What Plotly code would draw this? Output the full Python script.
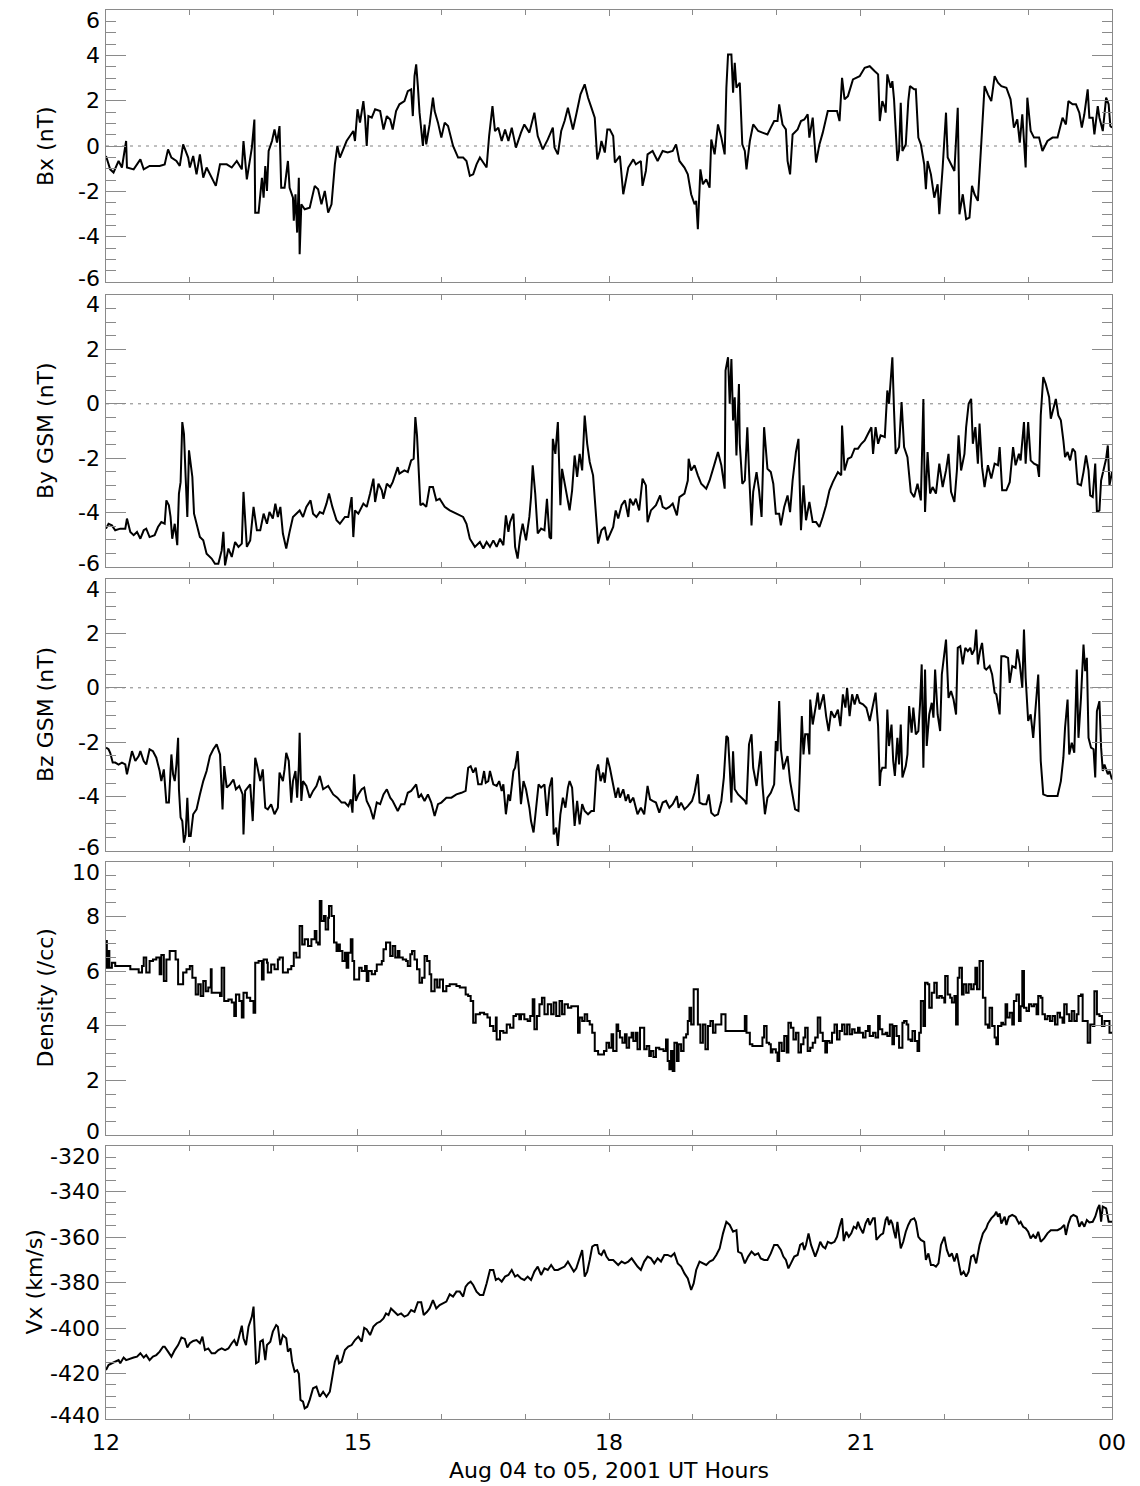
import plotly.graph_objects as go

# ---------------- data ----------------
BX_T = [12.00,12.05,12.09,12.15,12.19,12.24,12.25,12.33,12.41,12.45,12.52,12.64,12.70,12.74,12.78,12.84,12.88,12.92,12.98,13.00,
13.04,13.08,13.12,13.16,13.20,13.26,13.31,13.36,13.44,13.50,13.56,13.62,13.64,13.68,13.74,13.77,13.78,13.82,13.84,13.86,
13.88,13.90,13.92,13.94,13.98,14.01,14.04,14.07,14.09,14.13,14.17,14.19,14.23,14.24,14.26,14.28,14.30,14.31,14.33,14.37,
14.43,14.49,14.53,14.57,14.61,14.65,14.69,14.73,14.76,14.79,14.83,14.87,14.91,14.95,14.97,15.00,15.03,15.07,15.09,15.11,
15.13,15.17,15.21,15.27,15.31,15.35,15.39,15.42,15.46,15.50,15.56,15.60,15.64,15.66,15.68,15.70,15.72,15.74,15.78,15.80,
15.82,15.86,15.90,15.92,15.96,16.00,16.04,16.08,16.14,16.20,16.26,16.30,16.34,16.38,16.42,16.46,16.54,16.57,16.61,16.64,
16.68,16.72,16.76,16.80,16.84,16.89,16.95,16.99,17.05,17.11,17.15,17.21,17.27,17.33,17.35,17.39,17.43,17.47,17.51,17.57,
17.61,17.66,17.71,17.75,17.79,17.83,17.86,17.89,17.91,17.95,17.98,
18.01,18.05,18.07,18.13,18.17,18.23,18.29,18.32,18.38,18.40,18.44,18.46,18.52,18.58,18.64,18.70,18.76,18.80,18.84,18.90,
18.94,18.98,19.02,19.04,19.06,19.09,19.12,19.16,19.20,19.22,19.26,19.30,19.34,19.38,19.40,19.42,19.46,19.48,19.50,19.52,
19.56,19.59,19.62,19.64,19.68,19.72,19.78,19.83,19.89,19.93,19.97,20.01,20.03,20.07,20.11,20.13,20.16,20.19,20.25,20.29,
20.33,20.37,20.39,20.43,20.47,20.51,20.55,20.61,20.67,20.72,20.75,20.78,20.81,20.85,20.91,20.99,21.05,21.11,21.17,21.21,
21.23,21.26,21.29,21.30,21.32,21.36,21.38,21.40,21.44,21.46,21.48,21.50,21.54,21.57,21.59,21.64,21.66,21.69,21.72,21.76,
21.78,21.80,21.84,21.88,21.92,21.94,21.98,22.02,22.04,22.08,22.12,22.16,22.18,22.22,22.26,22.30,22.33,22.36,22.40,22.44,
22.48,22.52,22.56,22.60,22.64,22.68,22.74,22.79,22.83,22.87,22.90,22.93,22.97,22.99,23.03,23.07,23.13,23.17,23.23,23.29,
23.35,23.41,23.45,23.48,23.53,23.57,23.61,23.64,23.67,23.71,23.73,23.77,23.79,23.83,23.85,23.89,23.93,23.96,23.98,24.00]
BX = [-0.44,-1.03,-1.17,-0.66,-0.95,0.22,-0.95,-1.03,-0.59,-1.03,-0.88,-0.88,-0.81,-0.15,-0.51,-0.66,-0.88,0.07,-0.51,-0.95,
-0.44,-1.25,-0.37,-1.40,-0.95,-1.40,-1.76,-0.81,-0.81,-0.95,-0.66,-1.03,0.22,-1.47,-0.07,1.17,-2.94,-2.94,-2.28,-1.40,
-2.28,-0.88,-1.98,-0.22,0.22,0.73,0.15,0.88,-1.84,-1.84,-0.66,-1.84,-2.28,-3.30,-2.13,-3.82,-1.40,-4.77,-2.57,-2.79,
-2.72,-1.76,-1.91,-2.57,-1.98,-2.94,-2.57,-0.81,0.0,-0.51,-0.15,0.22,0.44,0.66,0.22,1.62,1.03,1.98,1.25,0.0,
1.32,1.25,1.62,1.54,0.73,1.32,1.17,0.73,1.54,1.84,1.98,2.42,2.50,1.32,3.08,3.60,2.64,1.47,0.0,0.95,
0.07,0.95,2.13,1.54,1.03,0.37,1.03,0.88,0.0,-0.51,-0.51,-0.66,-1.32,-1.25,-0.81,-0.51,-0.95,0.44,1.76,0.66,
0.81,0.22,0.73,0.22,0.81,-0.07,0.59,0.95,0.59,1.47,0.44,-0.15,0.29,0.81,-0.07,-0.37,0.66,1.10,1.69,0.73,
1.40,2.28,2.72,2.13,1.69,1.25,-0.59,-0.22,0.22,-0.29,0.73,
0.73,0.44,-0.73,-0.44,-2.13,-0.95,-0.59,-0.81,-0.66,-1.76,-1.10,-0.37,-0.22,-0.66,-0.22,-0.29,-0.22,0.07,-0.66,-0.95,
-1.25,-2.13,-2.57,-2.42,-3.67,-1.03,-1.69,-1.47,-1.84,0.29,-0.37,0.95,0.37,-0.37,2.57,4.04,4.04,2.35,3.67,2.57,
2.79,0.07,-0.22,-1.03,0.22,0.95,0.66,0.59,0.51,0.81,1.10,1.10,1.84,0.95,0.73,-0.66,-1.25,0.51,0.73,1.10,
1.17,1.40,0.37,1.25,-0.73,0.07,0.59,1.54,1.54,1.54,1.10,3.01,2.06,2.20,2.94,3.08,3.45,3.52,3.30,3.16,
1.10,1.98,1.69,1.47,3.16,2.57,2.86,2.06,-0.66,-0.22,1.91,-0.22,0.07,1.98,2.64,2.50,2.50,0.37,0.07,-0.81,
-1.91,-0.66,-1.25,-2.28,-1.69,-3.01,-0.95,1.47,-0.51,-0.81,-1.10,1.69,-3.01,-2.13,-3.23,-3.16,-1.76,-2.13,-2.42,0.07,
2.64,2.28,1.98,3.08,2.79,2.64,2.57,2.06,0.81,1.17,0.15,1.40,-0.95,2.13,0.66,0.37,0.37,-0.22,0.22,0.37,
0.37,1.25,0.95,1.98,1.84,1.84,1.47,0.81,1.40,2.50,1.25,1.25,0.51,1.76,1.25,0.66,2.13,1.84,0.88,0.81]

BY_T = [12.00,12.03,12.07,12.11,12.17,12.23,12.25,12.29,12.33,12.37,12.41,12.45,12.48,12.52,12.58,12.62,12.66,12.70,12.72,12.75,
12.77,12.79,12.82,12.85,12.87,12.89,12.91,12.93,12.95,12.97,12.99,13.01,13.03,13.05,13.08,13.12,13.16,13.20,13.26,13.30,
13.34,13.38,13.40,13.42,13.46,13.50,13.54,13.58,13.62,13.64,13.68,13.72,13.76,13.80,13.84,13.88,13.92,13.95,13.99,14.02,
14.05,14.08,14.11,14.15,14.19,14.23,14.27,14.31,14.35,14.39,14.44,14.47,14.51,14.55,14.59,14.63,14.66,14.70,14.75,14.79,
14.85,14.89,14.93,14.95,14.97,15.01,15.07,15.11,15.15,15.19,15.21,15.25,15.29,15.31,15.35,15.39,15.42,15.48,15.50,15.56,
15.60,15.64,15.67,15.69,15.71,15.73,15.75,15.78,15.82,15.86,15.90,15.94,15.98,16.04,16.10,16.18,16.26,16.30,16.34,16.40,
16.46,16.50,16.54,16.58,16.62,16.66,16.70,16.74,16.77,16.80,16.82,16.86,16.88,16.91,16.94,16.97,17.01,17.05,17.07,17.09,
17.12,17.15,17.19,17.23,17.26,17.29,17.31,17.33,17.36,17.39,17.42,17.44,17.47,17.50,17.53,17.56,17.59,17.62,17.65,17.68,
17.71,17.74,17.77,17.81,17.84,17.87,17.91,17.95,17.98,
18.01,18.05,18.08,18.11,18.15,18.19,18.23,18.25,18.29,18.32,18.36,18.38,18.40,18.44,18.46,18.50,18.56,18.61,18.64,18.68,
18.72,18.76,18.81,18.84,18.90,18.94,18.95,18.98,19.02,19.06,19.10,19.16,19.20,19.26,19.30,19.34,19.38,19.39,19.42,19.44,
19.46,19.48,19.50,19.52,19.55,19.56,19.59,19.62,19.65,19.67,19.70,19.72,19.76,19.79,19.82,19.85,19.89,19.93,19.96,19.99,
20.03,20.05,20.09,20.13,20.16,20.19,20.23,20.26,20.29,20.32,20.35,20.39,20.43,20.47,20.51,20.55,20.59,20.63,20.67,20.73,
20.77,20.78,20.81,20.85,20.89,20.93,20.97,21.01,21.05,21.09,21.13,21.15,21.18,21.21,21.24,21.29,21.32,21.34,21.36,21.38,
21.40,21.42,21.46,21.49,21.52,21.56,21.60,21.64,21.68,21.72,21.75,21.77,21.80,21.83,21.86,21.90,21.94,21.98,22.02,22.05,
22.08,22.12,22.15,22.17,22.20,22.24,22.26,22.29,22.32,22.34,22.37,22.40,22.42,22.45,22.48,22.52,22.56,22.60,22.64,22.66,
22.69,22.74,22.78,22.82,22.85,22.89,22.91,22.95,22.97,23.00,23.03,23.07,23.11,23.13,23.15,23.18,23.21,23.25,23.27,23.30,
23.33,23.36,23.39,23.42,23.44,23.47,23.50,23.53,23.56,23.59,23.63,23.66,23.69,23.72,23.74,23.77,23.80,23.82,23.85,23.87,
23.89,23.93,23.95,23.97,24.00]
BY = [-4.59,-4.41,-4.47,-4.65,-4.59,-4.59,-4.22,-4.71,-4.83,-4.71,-4.96,-4.65,-4.59,-4.90,-4.83,-4.53,-4.35,-4.41,-3.55,-3.73,
-4.16,-4.96,-4.41,-5.20,-3.30,-2.88,-0.67,-1.10,-2.69,-4.16,-1.71,-2.26,-2.69,-4.04,-4.41,-4.90,-5.02,-5.51,-5.69,-5.88,
-5.88,-5.39,-4.71,-5.94,-5.32,-5.63,-5.08,-5.26,-5.14,-3.24,-5.26,-5.02,-3.79,-4.65,-4.65,-4.04,-4.41,-3.98,-4.22,-3.67,
-4.16,-3.79,-4.77,-5.32,-4.71,-4.16,-4.04,-3.92,-4.16,-3.79,-3.55,-4.04,-4.16,-3.98,-4.04,-3.67,-3.30,-3.79,-4.28,-4.41,
-4.16,-4.16,-3.43,-4.90,-3.92,-4.04,-3.67,-3.79,-3.30,-2.75,-3.61,-2.94,-3.18,-3.49,-2.94,-3.06,-2.88,-2.33,-2.57,-2.45,
-2.51,-2.08,-2.02,-0.49,-1.16,-2.57,-3.73,-3.67,-3.79,-3.06,-3.06,-3.55,-3.49,-3.79,-3.92,-4.04,-4.16,-4.41,-4.96,-5.26,
-5.08,-5.32,-5.08,-5.26,-5.02,-5.26,-4.96,-5.20,-4.10,-4.71,-4.35,-4.04,-5.26,-5.69,-4.90,-4.41,-5.02,-4.16,-3.43,-2.26,
-3.30,-4.77,-4.59,-4.65,-3.49,-4.90,-4.96,-1.29,-1.84,-0.67,-3.73,-2.39,-2.94,-3.43,-3.92,-3.18,-1.90,-2.69,-1.84,-2.45,
-0.43,-1.47,-2.14,-2.63,-3.92,-5.14,-4.65,-4.53,-5.02,
-4.83,-4.53,-3.92,-4.22,-3.73,-3.55,-4.16,-3.49,-3.73,-3.49,-3.92,-3.43,-2.75,-3.00,-4.35,-3.92,-3.73,-3.37,-3.79,-3.86,
-3.79,-3.67,-4.10,-3.43,-3.30,-2.82,-2.02,-2.45,-2.26,-2.63,-2.94,-3.12,-2.82,-2.20,-1.77,-2.26,-3.12,1.22,1.71,0.0,
1.65,-0.61,0.24,-1.90,0.73,-1.47,-2.94,-2.82,-0.86,-2.45,-4.47,-3.24,-2.51,-3.18,-4.16,-0.86,-2.39,-2.51,-2.94,-4.04,
-4.04,-4.47,-3.79,-3.37,-3.98,-2.82,-1.77,-1.29,-4.65,-3.00,-4.28,-3.61,-4.35,-4.35,-4.53,-4.16,-3.73,-3.18,-2.88,-2.51,
-2.63,-0.80,-2.45,-2.02,-1.96,-1.65,-1.65,-1.47,-1.35,-1.10,-0.86,-1.84,-0.86,-1.47,-1.16,-1.22,0.49,0.00,0.73,1.71,
-0.24,-1.84,-1.59,0.06,-1.59,-1.96,-3.24,-3.43,-2.94,-3.55,0.18,-3.98,-1.77,-3.30,-3.06,-3.30,-2.20,-3.06,-2.45,-1.84,
-3.24,-3.61,-2.45,-1.16,-2.45,-1.84,-0.86,0.00,0.18,-1.47,-0.86,-2.20,-0.73,-2.33,-3.06,-2.26,-2.75,-2.20,-2.26,-1.59,
-3.18,-3.18,-2.88,-1.59,-2.26,-1.84,-2.08,-0.67,-2.20,-0.67,-2.08,-2.20,-2.26,-2.69,-0.43,0.98,0.73,0.24,-0.55,-0.12,
0.18,-0.43,-0.61,-1.35,-1.96,-1.77,-2.08,-1.65,-1.77,-2.94,-3.00,-2.51,-1.90,-2.45,-3.37,-3.43,-2.20,-3.98,-3.92,-2.82,
-2.57,-2.02,-1.53,-3.00,-2.51]

BZ_T = [12.00,12.03,12.05,12.08,12.11,12.15,12.19,12.23,12.25,12.28,12.31,12.35,12.39,12.41,12.45,12.48,12.52,12.56,12.60,12.64,
12.66,12.69,12.72,12.75,12.78,12.80,12.82,12.84,12.86,12.87,12.89,12.91,12.93,12.95,12.97,12.99,13.01,13.04,13.08,13.12,
13.16,13.20,13.24,13.28,13.32,13.36,13.39,13.41,13.44,13.48,13.52,13.55,13.59,13.63,13.64,13.66,13.70,13.72,13.75,13.78,
13.80,13.84,13.87,13.90,13.93,13.97,14.01,14.05,14.07,14.11,14.13,14.15,14.18,14.21,14.23,14.26,14.28,14.30,14.31,14.33,
14.35,14.39,14.43,14.47,14.51,14.55,14.59,14.65,14.71,14.76,14.81,14.85,14.89,14.92,14.94,14.96,14.98,15.01,15.05,15.08,
15.11,15.15,15.19,15.23,15.27,15.31,15.35,15.39,15.42,15.48,15.52,15.56,15.60,15.64,15.70,15.73,15.76,15.80,15.84,15.88,
15.92,15.96,16.00,16.06,16.12,16.18,16.24,16.29,16.32,16.35,16.38,16.41,16.44,16.48,16.51,16.53,16.56,16.58,16.62,16.66,
16.69,16.72,16.74,16.77,16.80,16.82,16.86,16.88,16.91,16.93,16.95,16.98,17.01,17.05,17.07,17.10,17.13,17.16,17.19,17.23,
17.26,17.29,17.32,17.34,17.37,17.39,17.42,17.45,17.48,17.51,17.53,17.56,17.59,17.62,17.65,17.68,17.71,17.75,17.79,17.82,
17.85,17.87,17.90,17.93,17.95,17.98,
18.01,18.05,18.08,18.11,18.13,18.17,18.20,18.23,18.25,18.29,18.32,18.34,18.38,18.42,18.46,18.49,18.52,18.56,18.60,18.64,
18.68,18.72,18.76,18.81,18.83,18.86,18.90,18.94,18.99,19.02,19.06,19.08,19.12,19.16,19.19,19.22,19.26,19.30,19.34,19.37,
19.40,19.42,19.44,19.46,19.48,19.50,19.54,19.58,19.62,19.64,19.67,19.70,19.72,19.76,19.79,19.81,19.83,19.86,19.89,19.93,
19.97,19.99,20.01,20.03,20.05,20.08,20.11,20.13,20.16,20.19,20.22,20.26,20.28,20.30,20.32,20.34,20.37,20.39,20.40,20.43,
20.47,20.49,20.51,20.53,20.56,20.59,20.62,20.65,20.69,20.73,20.76,20.79,20.82,20.84,20.87,20.90,20.93,20.96,20.99,21.03,
21.07,21.11,21.14,21.18,21.21,21.23,21.24,21.26,21.30,21.32,21.34,21.37,21.39,21.41,21.44,21.46,21.48,21.50,21.54,21.56,
21.58,21.61,21.63,21.66,21.69,21.71,21.73,21.75,21.77,21.79,21.82,21.85,21.87,21.89,21.92,21.95,21.97,22.00,22.02,22.05,
22.08,22.11,22.14,22.16,22.19,22.22,22.25,22.28,22.31,22.33,22.36,22.38,22.40,22.43,22.45,22.48,22.50,22.54,22.57,22.60,
22.62,22.66,22.68,22.72,22.76,22.78,22.81,22.85,22.87,22.90,22.93,22.95,22.97,23.00,23.03,23.06,23.09,23.12,23.15,23.18,
23.23,23.29,23.35,23.39,23.42,23.44,23.47,23.49,23.52,23.55,23.58,23.60,23.63,23.66,23.68,23.70,23.72,23.75,23.78,23.80,
23.82,23.85,23.87,23.89,23.91,23.95,23.97,24.00]
BZ = [-2.20,-2.26,-2.39,-2.75,-2.75,-2.82,-2.75,-2.82,-3.18,-2.69,-2.33,-2.69,-2.51,-2.33,-2.69,-2.82,-2.26,-2.33,-2.57,-3.06,
-3.43,-3.00,-4.22,-4.22,-2.45,-3.18,-3.43,-2.82,-1.84,-3.73,-4.77,-4.90,-5.69,-5.39,-4.04,-5.45,-5.45,-4.65,-4.47,-3.92,
-3.43,-3.06,-2.51,-2.26,-2.08,-2.45,-4.47,-2.88,-3.67,-3.55,-3.37,-3.73,-3.61,-3.92,-5.39,-3.79,-3.61,-3.55,-4.90,-2.57,
-2.82,-3.43,-3.00,-4.41,-4.47,-4.28,-4.65,-4.41,-3.12,-3.43,-3.00,-2.39,-2.69,-4.22,-3.43,-3.06,-4.04,-2.88,-1.65,-4.16,
-3.43,-3.61,-4.04,-3.79,-3.61,-3.24,-3.73,-3.61,-3.92,-4.04,-4.22,-4.22,-4.35,-4.10,-4.59,-3.18,-4.16,-3.92,-3.73,-3.67,
-4.16,-4.41,-4.83,-4.22,-4.28,-3.92,-3.73,-4.04,-4.16,-4.53,-4.28,-4.28,-3.86,-3.79,-3.55,-4.04,-3.92,-4.16,-3.92,-4.22,
-4.71,-4.28,-4.22,-4.04,-4.04,-3.92,-3.86,-3.79,-2.94,-2.88,-3.12,-2.94,-3.55,-3.55,-3.06,-3.49,-3.43,-3.06,-3.55,-3.61,
-3.43,-3.79,-3.55,-4.65,-3.92,-4.16,-3.06,-2.94,-2.33,-3.43,-4.28,-3.43,-3.73,-4.41,-4.90,-5.32,-4.35,-3.55,-3.67,-3.55,
-4.71,-3.67,-3.30,-5.39,-5.14,-5.81,-4.65,-4.04,-4.41,-3.67,-3.43,-3.67,-5.08,-4.16,-5.02,-4.28,-4.53,-4.65,-4.53,-4.53,
-3.06,-2.82,-3.43,-3.12,-3.49,-2.57,
-2.94,-3.55,-4.04,-3.67,-4.04,-3.73,-4.16,-3.92,-4.22,-4.04,-4.47,-4.65,-4.41,-4.65,-3.61,-4.10,-4.16,-4.22,-4.59,-4.22,
-4.16,-4.41,-4.28,-3.98,-4.41,-4.22,-4.47,-4.35,-4.16,-3.86,-3.18,-4.22,-4.28,-4.28,-3.92,-4.59,-4.71,-4.65,-4.16,-3.30,
-1.77,-1.84,-2.94,-4.22,-2.33,-3.73,-3.92,-4.04,-4.16,-4.28,-2.08,-1.71,-2.94,-3.61,-2.94,-2.33,-3.55,-4.65,-4.04,-3.86,
-3.55,-1.96,-2.33,-0.49,-2.26,-3.00,-2.69,-2.51,-3.43,-3.92,-4.47,-4.53,-3.06,-1.04,-2.45,-1.71,-1.71,-2.45,-0.43,-1.35,
-0.61,-0.18,-0.80,-0.61,-0.24,-1.04,-1.59,-0.86,-1.10,-0.80,-1.41,-0.24,-0.73,0.00,-1.04,-0.24,-0.61,-0.24,-0.55,-0.61,
-0.73,-1.22,-0.73,-0.18,-1.41,-3.61,-3.12,-2.94,-2.94,-0.80,-2.14,-1.35,-2.69,-3.24,-1.84,-2.82,-1.35,-3.30,-2.88,-2.45,
-0.67,-1.65,-0.73,-1.71,-1.59,-0.61,0.86,-2.94,0.67,-2.14,-0.98,-0.55,-1.10,0.67,-0.98,-1.59,0.49,1.22,1.77,-0.37,
-0.12,-0.43,-0.98,1.47,1.53,0.86,1.47,1.35,1.47,1.22,1.41,2.14,0.86,1.41,1.65,0.73,0.67,0.80,0.49,-0.18,
-0.24,-0.98,1.16,1.16,1.10,0.18,0.80,0.73,1.41,0.86,0.00,2.14,0.37,-1.22,-0.98,-1.84,-0.73,0.49,-2.69,-3.92,
-3.98,-3.98,-3.98,-3.43,-2.57,-1.47,-0.43,-2.45,-2.02,-2.39,0.67,-1.84,-0.37,1.59,0.61,1.10,-1.84,-2.20,-2.26,-3.30,
-0.86,-0.49,-2.20,-3.06,-2.82,-3.18,-3.06,-3.37]

DEN_T = [12.00,12.01,12.03,12.04,12.07,12.11,12.17,12.23,12.29,12.35,12.39,12.43,12.45,12.48,12.52,12.56,12.60,12.64,12.66,12.69,
12.72,12.76,12.80,12.83,12.86,12.89,12.92,12.96,13.00,13.03,13.07,13.10,13.13,13.16,13.19,13.22,13.25,13.26,13.32,13.36,
13.38,13.41,13.46,13.50,13.53,13.55,13.59,13.62,13.64,13.68,13.72,13.76,13.78,13.82,13.86,13.88,13.92,13.93,13.97,14.01,
14.05,14.07,14.11,14.15,14.17,14.21,14.24,14.27,14.31,14.34,14.37,14.41,14.45,14.49,14.51,14.53,14.55,14.57,14.60,14.62,
14.65,14.66,14.69,14.72,14.75,14.77,14.79,14.82,14.85,14.87,14.89,14.92,14.94,14.96,14.99,15.02,15.05,15.09,15.11,15.13,
15.17,15.21,15.23,15.29,15.31,15.34,15.37,15.39,15.42,15.45,15.48,15.50,15.54,15.58,15.60,15.63,15.65,15.68,15.71,15.74,
15.77,15.80,15.83,15.86,15.88,15.92,15.95,15.98,16.02,16.06,16.10,16.14,16.18,16.22,16.26,16.29,16.32,16.35,16.38,16.41,
16.46,16.51,16.55,16.58,16.62,16.65,16.66,16.70,16.74,16.78,16.82,16.86,16.89,16.93,16.95,16.99,17.03,17.06,17.09,17.11,
17.14,17.17,17.20,17.23,17.27,17.31,17.34,17.37,17.41,17.44,17.47,17.51,17.55,17.59,17.63,17.65,17.68,17.71,17.74,17.77,
17.80,17.83,17.87,17.91,17.94,17.97,
18.00,18.03,18.05,18.09,18.11,18.13,18.16,18.19,18.21,18.24,18.27,18.29,18.32,18.34,18.37,18.40,18.42,18.45,18.48,18.50,
18.53,18.56,18.60,18.65,18.68,18.70,18.72,18.74,18.76,18.78,18.81,18.83,18.86,18.89,18.92,18.94,18.96,18.98,19.01,19.04,
19.06,19.09,19.12,19.15,19.18,19.21,19.24,19.27,19.31,19.34,19.38,19.39,19.48,19.56,19.60,19.62,19.64,19.68,19.71,19.76,
19.80,19.83,19.85,19.88,19.91,19.93,19.95,19.99,20.01,20.03,20.06,20.09,20.12,20.14,20.17,20.20,20.23,20.26,20.29,20.32,
20.34,20.37,20.40,20.43,20.46,20.49,20.52,20.55,20.58,20.60,20.63,20.66,20.69,20.72,20.75,20.78,20.81,20.84,20.87,20.90,
20.93,20.97,20.99,21.03,21.06,21.09,21.11,21.15,21.18,21.21,21.23,21.26,21.30,21.32,21.35,21.38,21.40,21.43,21.46,21.50,
21.52,21.55,21.57,21.60,21.62,21.65,21.68,21.70,21.72,21.75,21.77,21.80,21.82,21.85,21.88,21.91,21.94,21.97,22.00,22.01,
22.04,22.07,22.09,22.12,22.14,22.16,22.18,22.21,22.23,22.26,22.29,22.32,22.35,22.37,22.39,22.42,22.45,22.46,22.49,22.52,
22.54,22.57,22.60,22.62,22.64,22.68,22.70,22.73,22.75,22.78,22.81,22.83,22.86,22.89,22.91,22.93,22.95,22.98,23.01,23.04,
23.07,23.10,23.12,23.15,23.17,23.20,23.23,23.26,23.29,23.32,23.35,23.38,23.41,23.43,23.46,23.49,23.52,23.55,23.58,23.60,
23.63,23.65,23.68,23.71,23.74,23.77,23.79,23.82,23.85,23.88,23.91,23.93,23.97,24.00]
DEN = [7.11,6.13,6.74,6.13,6.31,6.19,6.19,6.19,6.07,6.07,5.95,6.19,6.50,5.95,6.37,6.43,6.50,5.89,6.59,5.64,
6.43,6.74,6.74,6.43,5.52,5.52,5.95,6.07,6.19,5.76,5.15,5.52,5.09,5.64,5.27,5.40,6.07,5.21,5.21,5.09,
6.13,4.91,4.96,4.85,4.36,5.15,4.91,4.30,5.21,5.03,4.91,4.48,6.31,6.37,5.70,6.43,6.31,5.95,6.25,6.07,
6.43,6.50,5.95,5.95,6.07,6.19,6.68,6.50,7.66,6.98,7.17,6.92,7.17,7.47,7.05,6.98,8.57,7.84,8.02,7.53,
7.96,8.39,8.02,7.05,6.74,6.98,6.74,6.37,6.68,6.13,6.68,7.17,6.37,5.70,5.70,6.13,6.01,6.19,5.64,6.01,
5.89,6.01,6.25,6.37,6.80,7.05,7.05,6.56,6.92,6.50,6.74,6.50,6.43,6.37,6.19,6.62,6.74,6.43,6.07,5.58,
5.76,6.56,6.37,5.89,5.27,5.70,5.40,5.70,5.27,5.46,5.52,5.52,5.46,5.40,5.40,5.15,5.09,4.91,4.11,4.42,
4.48,4.42,4.30,3.99,3.81,4.30,3.50,3.81,3.75,4.05,3.93,4.36,4.42,4.24,4.42,4.24,4.18,4.36,4.97,3.87,
4.36,4.79,5.03,4.42,4.79,4.42,4.85,4.36,4.91,4.42,4.79,4.66,4.72,4.72,3.75,4.30,4.18,4.42,4.18,4.05,
3.75,3.08,2.95,2.95,3.08,3.38,
3.20,3.69,3.08,4.05,3.81,3.57,3.38,3.69,3.20,3.57,3.75,3.44,3.75,3.14,3.93,3.93,3.14,3.26,2.89,3.08,
2.86,3.20,3.14,3.08,3.50,2.71,2.41,3.08,2.34,3.38,2.71,3.32,3.08,3.57,3.69,4.18,4.66,4.05,5.34,5.34,
4.05,3.38,4.05,3.14,3.99,4.18,3.75,4.05,4.05,4.42,4.42,3.81,3.81,3.81,3.81,4.36,3.75,3.32,3.26,3.26,
3.26,3.57,3.99,3.38,3.32,3.02,3.14,3.02,2.71,3.38,3.08,3.63,3.02,4.11,3.93,3.50,3.75,3.02,3.32,3.57,
3.93,3.08,3.20,3.38,3.57,4.30,3.75,3.44,3.02,3.44,3.38,3.75,4.05,3.50,3.81,4.05,3.69,4.05,3.69,3.87,
3.75,3.93,3.75,3.57,3.81,3.99,3.63,3.75,3.57,4.36,3.87,3.69,3.75,3.63,4.05,3.32,3.99,3.63,3.20,4.11,
4.18,4.05,3.50,3.44,3.81,3.44,3.08,3.75,4.91,3.99,5.58,5.52,4.66,5.21,5.58,5.03,5.09,5.03,4.85,5.82,
5.15,5.03,4.85,5.09,4.05,5.76,6.13,5.15,5.52,5.21,5.52,5.34,5.52,6.13,5.34,6.37,6.37,5.03,4.05,3.93,
4.66,3.99,3.57,3.32,3.99,4.11,4.05,4.79,4.30,4.48,4.05,4.91,5.15,4.18,4.72,6.01,4.66,4.54,4.79,4.72,
4.79,4.42,5.09,5.03,4.42,4.24,4.36,4.18,4.36,4.05,4.48,4.30,4.11,4.79,4.42,4.18,4.54,4.18,4.42,5.09,
5.15,4.18,4.18,3.38,4.05,3.99,5.27,4.42,4.36,3.99,4.18,4.18,3.75,3.75]

VX_T = [12.00,12.03,12.07,12.11,12.15,12.17,12.21,12.24,12.29,12.33,12.37,12.41,12.45,12.48,12.52,12.56,12.60,12.64,12.68,12.70,
12.74,12.78,12.82,12.86,12.90,12.94,12.97,13.00,13.04,13.08,13.12,13.15,13.18,13.22,13.26,13.30,13.34,13.38,13.42,13.46,
13.50,13.53,13.56,13.59,13.62,13.64,13.67,13.70,13.74,13.76,13.79,13.82,13.84,13.87,13.90,13.92,13.96,13.99,14.03,14.05,
14.08,14.11,14.15,14.17,14.20,14.22,14.25,14.28,14.30,14.32,14.35,14.37,14.40,14.43,14.47,14.51,14.55,14.59,14.63,14.67,
14.70,14.73,14.76,14.78,14.81,14.85,14.89,14.93,14.97,15.01,15.05,15.08,15.11,15.15,15.19,15.23,15.27,15.31,15.34,15.37,
15.40,15.44,15.48,15.52,15.56,15.60,15.64,15.68,15.72,15.76,15.79,15.83,15.86,15.90,15.94,15.98,16.02,16.06,16.10,16.14,
16.18,16.22,16.26,16.29,16.32,16.35,16.38,16.42,16.46,16.50,16.54,16.58,16.62,16.65,16.68,16.72,16.76,16.80,16.84,16.88,
16.91,16.95,16.99,17.03,17.07,17.11,17.15,17.19,17.23,17.27,17.31,17.35,17.39,17.43,17.47,17.51,17.55,17.58,17.61,17.65,
17.68,17.71,17.74,17.77,17.80,17.83,17.86,17.88,17.91,17.94,17.97,18.00,
18.05,18.11,18.15,18.19,18.23,18.27,18.31,18.34,18.38,18.42,18.46,18.50,18.54,18.58,18.62,18.66,18.70,18.74,18.78,18.82,
18.86,18.90,18.94,18.98,19.01,19.04,19.08,19.12,19.16,19.20,19.24,19.28,19.32,19.36,19.40,19.44,19.48,19.52,19.54,19.58,
19.62,19.66,19.70,19.74,19.78,19.81,19.85,19.89,19.93,19.97,20.01,20.05,20.08,20.11,20.14,20.17,20.21,20.25,20.28,20.31,
20.33,20.35,20.38,20.41,20.44,20.46,20.49,20.52,20.55,20.58,20.61,20.65,20.69,20.72,20.75,20.78,20.80,20.83,20.86,20.89,
20.92,20.95,20.97,20.99,21.03,21.06,21.09,21.11,21.15,21.17,21.19,21.22,21.24,21.27,21.30,21.32,21.34,21.36,21.38,21.40,
21.42,21.44,21.46,21.48,21.51,21.54,21.57,21.60,21.64,21.66,21.69,21.72,21.76,21.78,21.81,21.84,21.87,21.90,21.93,21.96,
22.00,22.03,22.06,22.09,22.12,22.15,22.18,22.20,22.23,22.26,22.29,22.32,22.35,22.38,22.42,22.46,22.50,22.52,22.56,22.60,
22.62,22.64,22.66,22.68,22.72,22.74,22.77,22.81,22.85,22.89,22.91,22.94,22.97,23.00,23.03,23.06,23.09,23.12,23.15,23.19,
23.23,23.27,23.31,23.35,23.39,23.43,23.45,23.48,23.51,23.54,23.58,23.61,23.64,23.67,23.70,23.73,23.77,23.80,23.83,23.85,
23.87,23.89,23.93,23.96,24.00]
VX = [-418.5,-416.3,-415.5,-414.8,-414.1,-415.5,-413.0,-414.1,-413.3,-413.0,-412.6,-411.1,-413.0,-411.9,-414.1,-412.6,-411.9,-410.4,-408.2,-408.2,
-410.4,-412.6,-409.7,-407.5,-404.2,-404.8,-408.6,-406.7,-405.7,-405.3,-406.7,-403.8,-409.7,-409.0,-411.1,-411.1,-409.7,-409.0,-409.7,-409.0,
-406.7,-405.3,-407.8,-403.1,-399.0,-404.5,-407.5,-399.4,-395.0,-390.6,-415.5,-414.8,-406.0,-405.3,-414.1,-407.5,-406.0,-401.6,-398.7,-399.4,
-407.5,-403.1,-404.5,-410.4,-409.0,-414.8,-419.2,-418.5,-420.1,-431.6,-432.4,-435.3,-434.6,-431.6,-426.5,-425.8,-430.2,-428.0,-430.2,-428.0,
-422.1,-414.8,-411.9,-415.5,-414.8,-409.7,-408.2,-407.5,-405.3,-403.8,-406.0,-399.9,-400.6,-403.1,-399.4,-397.9,-397.2,-395.8,-393.6,-394.3,
-391.4,-392.9,-394.3,-393.6,-395.0,-394.3,-392.1,-392.9,-388.7,-388.7,-394.3,-392.9,-391.4,-387.7,-391.4,-389.9,-389.2,-388.4,-385.2,-386.2,
-384.0,-384.0,-386.2,-381.8,-380.4,-379.6,-381.1,-384.0,-385.5,-385.5,-380.4,-374.5,-374.5,-378.9,-378.2,-379.6,-377.4,-376.7,-374.5,-377.4,
-376.7,-378.2,-378.9,-377.4,-378.9,-375.2,-373.0,-376.7,-373.8,-374.5,-372.3,-374.5,-374.5,-373.8,-373.0,-370.8,-373.0,-375.2,-373.8,-369.4,
-365.7,-377.4,-375.2,-370.1,-364.2,-363.5,-363.5,-367.2,-367.9,-365.7,-368.6,-370.1,
-370.1,-372.3,-370.8,-371.6,-370.8,-369.4,-371.6,-373.0,-374.5,-370.8,-368.6,-369.4,-371.6,-369.4,-370.8,-367.9,-367.9,-368.6,-367.2,-371.6,
-373.0,-376.0,-378.2,-383.3,-380.4,-374.5,-370.8,-371.6,-372.3,-370.8,-370.1,-367.9,-365.0,-358.4,-353.3,-354.7,-357.7,-357.0,-366.4,-367.2,
-371.6,-368.6,-366.4,-367.9,-367.2,-369.4,-370.1,-370.1,-367.2,-363.5,-363.5,-365.7,-368.6,-370.1,-373.8,-371.6,-368.6,-367.9,-363.5,-362.8,
-365.7,-363.5,-358.4,-363.5,-367.2,-368.6,-365.7,-362.1,-364.2,-365.0,-362.1,-362.8,-362.1,-359.9,-355.5,-351.8,-361.8,-357.7,-359.9,-358.4,
-355.5,-356.2,-353.3,-355.5,-358.4,-354.1,-351.8,-354.7,-351.8,-351.8,-361.3,-359.9,-359.1,-358.4,-352.5,-351.1,-354.7,-352.5,-354.1,-357.7,
-360.6,-353.3,-359.1,-365.0,-362.1,-357.7,-354.7,-352.5,-351.8,-353.3,-359.9,-361.3,-362.1,-370.1,-367.2,-372.3,-372.3,-373.0,-371.6,-363.5,
-359.9,-365.7,-368.6,-367.2,-370.8,-367.2,-373.0,-376.7,-375.2,-377.4,-375.2,-368.6,-367.9,-371.6,-363.5,-358.4,-356.2,-354.1,-351.8,-350.3,
-348.9,-351.1,-349.6,-354.1,-351.1,-354.7,-351.1,-350.3,-351.1,-354.1,-353.3,-355.5,-356.2,-357.7,-360.6,-359.1,-360.6,-357.7,-362.1,-360.6,
-358.4,-357.0,-357.0,-357.0,-356.2,-354.7,-359.1,-354.1,-351.1,-350.3,-351.1,-355.5,-353.3,-355.5,-352.5,-353.6,-353.3,-351.1,-347.4,-345.9,
-353.3,-346.6,-347.4,-353.3,-353.3]

# axis ticks / labels
X_TICKS = [12, 15, 18, 21, 24]
X_LABELS = ["12", "15", "18", "21", "00"]
Y1_TICKS = [6, 4, 2, 0, -2, -4, -6]
Y23_TICKS = [4, 2, 0, -2, -4, -6]
Y4_TICKS = [10, 8, 6, 4, 2, 0]
Y5_TICKS = [-320, -340, -360, -380, -400, -420, -440]
Y_TITLES = ["Bx (nT)", "By GSM (nT)", "Bz GSM (nT)", "Density (/cc)", "Vx (km/s)"]
X_TITLE = "Aug 04 to 05, 2001 UT Hours"

# ---------------- figure ----------------
W, H = 1140, 1486
ML, MR, MT, MB = 106, 28, 10, 67
plot_w = W - ML - MR
plot_h = H - MT - MB
FONT = "DejaVu Sans, Verdana, sans-serif"
FS = 22
FRAME = "#8a8a8a"

panels_px = [(10, 282), (295, 567), (579, 851), (862, 1135), (1146, 1419)]
title_x_px = [45, 45, 45, 45, 34]
def dom(top, bot):
    return [(H - MB - bot) / plot_h, (H - MB - top) / plot_h]
def py(px):
    return (H - MB - px) / plot_h

series = [(BX_T, BX, "linear"), (BY_T, BY, "linear"), (BZ_T, BZ, "linear"),
          (DEN_T, DEN, "hv"), (VX_T, VX, "linear")]
yranges = [[-6, 6], [-6, 4], [-6, 4], [0, 10], [-440, -320]]
yticks = [Y1_TICKS, Y23_TICKS, Y23_TICKS, Y4_TICKS, Y5_TICKS]
ymin_step = [0.5, 0.5, 0.5, 0.5, 5]

fig = go.Figure()
layout = dict(width=W, height=H, margin=dict(l=ML, r=MR, t=MT, b=MB),
              paper_bgcolor="white", plot_bgcolor="white", showlegend=False,
              font=dict(family=FONT, size=FS, color="black"))
annotations = []
shapes = []
for i, ((t, v, shp), yr, yt, ms) in enumerate(zip(series, yranges, yticks, ymin_step)):
    n = i + 1
    xa = "x" if n == 1 else f"x{n}"
    ya = "y" if n == 1 else f"y{n}"
    fig.add_trace(go.Scatter(x=t, y=v, mode="lines", xaxis=xa, yaxis=ya,
                             line=dict(color="black", width=2, shape=shp)))
    d = dom(*panels_px[i])
    lo, hi = yr
    nminor = int(round((hi - lo) / ms))
    minor_vals = [lo + k * ms for k in range(nminor + 1) if (lo + k * ms) not in yt]
    layout["yaxis" if n == 1 else f"yaxis{n}"] = dict(
        domain=d, anchor=xa, range=yr, tickmode="array", tickvals=yt,
        showticklabels=False, ticks="inside", ticklen=20, tickwidth=1,
        tickcolor=FRAME, showline=True, linecolor=FRAME, linewidth=1, mirror="ticks",
        showgrid=False, zeroline=False,
        minor=dict(tickvals=minor_vals, ticks="inside", ticklen=10, tickcolor=FRAME, tickwidth=1, showgrid=False),
    )
    layout["xaxis" if n == 1 else f"xaxis{n}"] = dict(
        domain=[0, 1], anchor=ya, range=[12, 24], tickmode="array", tickvals=X_TICKS,
        ticks="inside", ticklen=6, tickwidth=1, tickcolor=FRAME,
        showline=True, linecolor=FRAME, linewidth=1, mirror="ticks", showgrid=False,
        zeroline=False, showticklabels=False,
        minor=dict(tickvals=[h for h in range(13, 24) if h not in X_TICKS], ticks="inside",
                   ticklen=5, tickcolor=FRAME, tickwidth=1, showgrid=False),
        matches=None if n == 1 else "x",
    )
    # y tick labels (edge labels nudged inside the panel, as in the reference)
    for val in yt:
        shift = 0
        if val == hi:
            shift = -10
        elif val == lo:
            shift = 4
        annotations.append(dict(text=str(val), xref="paper", yref=ya, x=(101 - ML) / plot_w, y=val,
                                yshift=shift, showarrow=False, xanchor="right", yanchor="middle",
                                borderpad=0, font=dict(size=FS, color="black")))
    annotations.append(dict(text=Y_TITLES[i], xref="paper", yref="paper",
                            x=(title_x_px[i] - ML) / plot_w, y=(d[0] + d[1]) / 2,
                            textangle=-90, showarrow=False, xanchor="center", yanchor="middle",
                            borderpad=0, font=dict(size=FS, color="black")))
    if n <= 3:
        shapes.append(dict(type="line", xref=f"{xa} domain", yref=ya, x0=0, x1=1, y0=0, y1=0,
                           line=dict(color="#808080", width=1, dash="3px,5px"), layer="below"))

for val, lab in zip(X_TICKS, X_LABELS):
    annotations.append(dict(text=lab, xref="x5", yref="paper", x=val, y=py(1442),
                            showarrow=False, xanchor="center", yanchor="middle",
                            borderpad=0, font=dict(size=FS, color="black")))
annotations.append(dict(text=X_TITLE, xref="paper", yref="paper", x=0.5,
                        y=py(1470), showarrow=False, borderpad=0,
                        xanchor="center", yanchor="middle", font=dict(size=FS, color="black")))
layout["annotations"] = annotations
layout["shapes"] = shapes
fig.update_layout(**layout)
fig.write_html("out.html")
